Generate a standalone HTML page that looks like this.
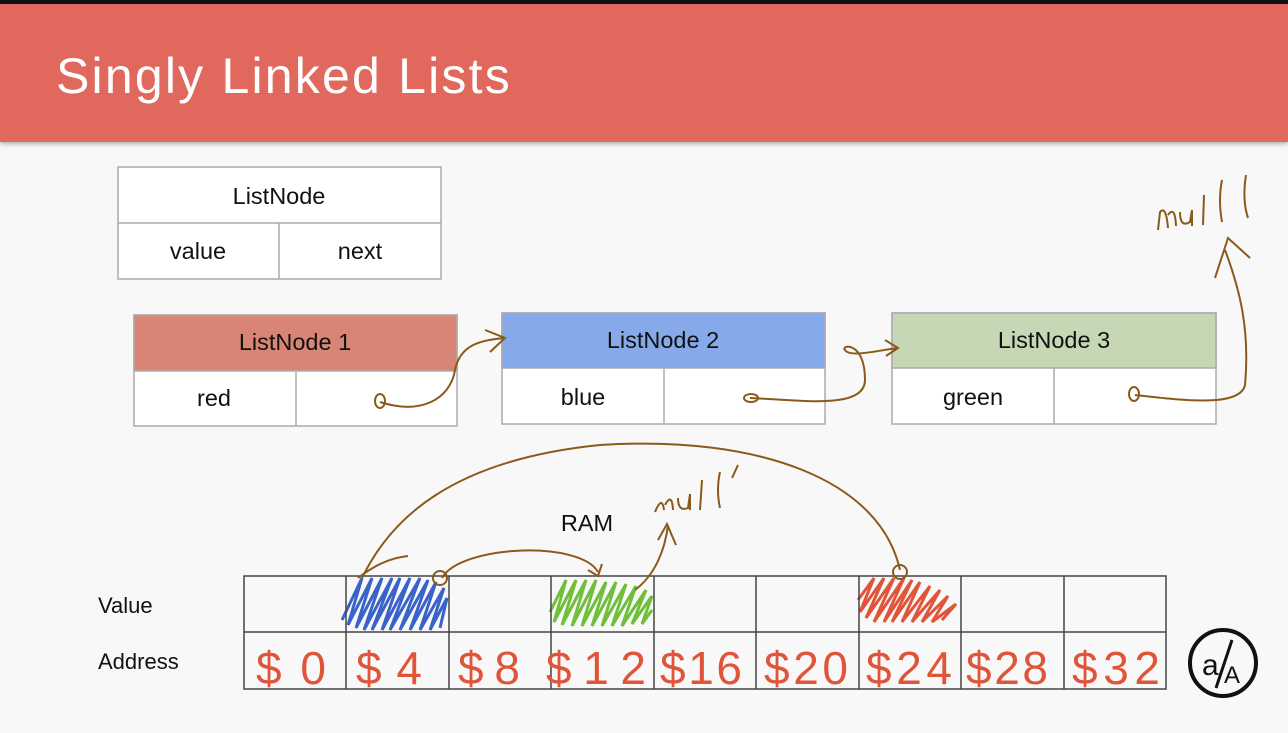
<!DOCTYPE html>
<html><head><style>
body{margin:0;width:1288px;height:728px;overflow:hidden;background:#f8f8f8;font-family:"Liberation Sans",sans-serif}
</style></head><body>
<svg width="1288" height="728" xmlns="http://www.w3.org/2000/svg" font-family="Liberation Sans, sans-serif">
<defs><filter id="sh"><feDropShadow dx="0" dy="2" stdDeviation="2" flood-opacity="0.3"/></filter></defs>
<rect width="1288" height="728" fill="#f8f8f8"/>
<rect x="0" y="0" width="1288" height="142" fill="#e1675b" filter="url(#sh)"/>
<rect x="0" y="0" width="1288" height="4" fill="#111"/>
<text x="56" y="93" font-size="50" fill="#fff" letter-spacing="2.2">Singly Linked Lists</text>

<g stroke="#aaa" stroke-width="1.5" fill="#fff">
<rect x="118" y="167" width="323" height="112"/>
<line x1="118" y1="223" x2="441" y2="223"/><line x1="279" y1="223" x2="279" y2="279"/>
<rect x="134" y="315" width="323" height="111"/>
<rect x="134" y="315" width="323" height="56" fill="#d88575"/>
<line x1="296" y1="371" x2="296" y2="426"/>
<rect x="502" y="313" width="323" height="111"/>
<rect x="502" y="313" width="323" height="55" fill="#86a9ea"/>
<line x1="664" y1="368" x2="664" y2="424"/>
<rect x="892" y="313" width="324" height="111"/>
<rect x="892" y="313" width="324" height="55" fill="#c6d7b6"/>
<line x1="1054" y1="368" x2="1054" y2="424"/>
</g>
<g font-size="23.5" fill="#111" text-anchor="middle">
<text x="279" y="204">ListNode</text><text x="198" y="259">value</text><text x="360" y="259">next</text>
<text x="295" y="350">ListNode 1</text><text x="214" y="406">red</text>
<text x="663" y="348">ListNode 2</text><text x="583" y="405">blue</text>
<text x="1054" y="348">ListNode 3</text><text x="973" y="405">green</text>
<text x="587" y="531">RAM</text>
</g>
<text x="98" y="613" font-size="22" fill="#111">Value</text>
<text x="98" y="669" font-size="22" fill="#111">Address</text>

<g fill="none" stroke-width="3">
<path d="M342,620 L362,578 L348,625 L372,578 L356,628 L382,578 L364,630 L392,578 L372,630 L400,578 L382,630 L410,578 L390,630 L420,578 L400,630 L428,580 L410,630 L436,582 L420,630 L444,588 L430,630 L447,598 L440,628" stroke="#3a63c9"/>
<path d="M550,612 L566,580 L554,622 L576,580 L562,625 L586,580 L572,626 L596,580 L582,626 L606,582 L592,626 L616,582 L602,626 L626,584 L612,626 L636,586 L622,626 L646,590 L632,624 L652,596 L642,624 L652,610" stroke="#6fbf3a"/>
<path d="M858,600 L874,578 L860,612 L884,578 L866,618 L894,578 L874,622 L904,578 L884,622 L912,580 L892,622 L920,582 L902,622 L930,586 L912,622 L940,590 L922,622 L948,596 L932,622 L956,604 L942,620" stroke="#e0553a"/>
</g>

<g stroke="#444" stroke-width="1.5" fill="none">
<rect x="244" y="576" width="922" height="113"/>
<line x1="244" y1="632" x2="1166" y2="632"/>
<line x1="346" y1="576" x2="346" y2="689"/><line x1="449" y1="576" x2="449" y2="689"/>
<line x1="551" y1="576" x2="551" y2="689"/><line x1="654" y1="576" x2="654" y2="689"/>
<line x1="756" y1="576" x2="756" y2="689"/><line x1="859" y1="576" x2="859" y2="689"/>
<line x1="961" y1="576" x2="961" y2="689"/><line x1="1064" y1="576" x2="1064" y2="689"/>
</g>
<g font-size="46" fill="#e0553a" font-family="Liberation Sans, sans-serif">
<text x="256" y="684" textLength="70">$0</text><text x="356" y="684" textLength="66">$4</text><text x="458" y="684" textLength="62">$8</text>
<text x="546" y="684" textLength="100">$12</text><text x="660" y="684" textLength="82">$16</text><text x="764" y="684" textLength="84">$20</text>
<text x="866" y="684" textLength="86">$24</text><text x="966" y="684" textLength="82">$28</text><text x="1072" y="684" textLength="88">$32</text>
</g>

<g stroke="#8a5a1a" stroke-width="2" fill="none">
<path d="M380,402 C420,415 450,400 455,370 C460,345 480,340 505,338 M485,330 L505,338 L490,352"/>
<ellipse cx="380" cy="401" rx="5" ry="7"/>
<path d="M750,398 C800,400 865,410 865,380 C865,340 840,345 845,350 C850,358 880,350 898,348 M885,340 L898,348 L886,356"/>
<ellipse cx="751" cy="398" rx="7" ry="4"/>
<path d="M1135,395 C1180,400 1240,408 1245,385 C1250,330 1240,290 1225,250 M1215,278 L1228,238 L1250,258"/>
<ellipse cx="1134" cy="394" rx="5" ry="7"/>
<path d="M1158,230 L1160,212 Q1166,205 1168,228 M1168,215 Q1175,205 1176,226 M1180,212 Q1180,228 1190,222 L1192,210 L1192,226 M1204,195 L1203,225 M1222,180 Q1218,200 1222,222 M1246,175 Q1242,200 1248,218"/>
<path d="M362,578 C390,520 450,460 600,445 C760,435 880,480 900,570 M358,578 C375,565 390,558 408,556"/>
<path d="M442,578 C460,545 580,540 598,572 M588,570 L598,576 L602,564"/>
<ellipse cx="440" cy="578" rx="7" ry="7"/><ellipse cx="900" cy="572" rx="7" ry="7"/>
<path d="M635,590 C655,575 665,550 668,525 M658,540 L667,524 L676,545"/>
<path d="M655,512 Q662,495 664,510 M665,505 Q672,492 673,510 M678,498 Q678,512 688,508 L690,494 L690,510 M702,480 L700,510 M720,472 Q716,490 720,508 M738,465 L732,478"/>
</g>

<circle cx="1223" cy="663" r="33" fill="none" stroke="#111" stroke-width="4"/>
<text x="1202" y="675" font-size="30" fill="#111">a</text>
<line x1="1232" y1="640" x2="1216" y2="688" stroke="#111" stroke-width="3"/>
<text x="1224" y="683" font-size="24" fill="#111">A</text>
</svg>
</body></html>
